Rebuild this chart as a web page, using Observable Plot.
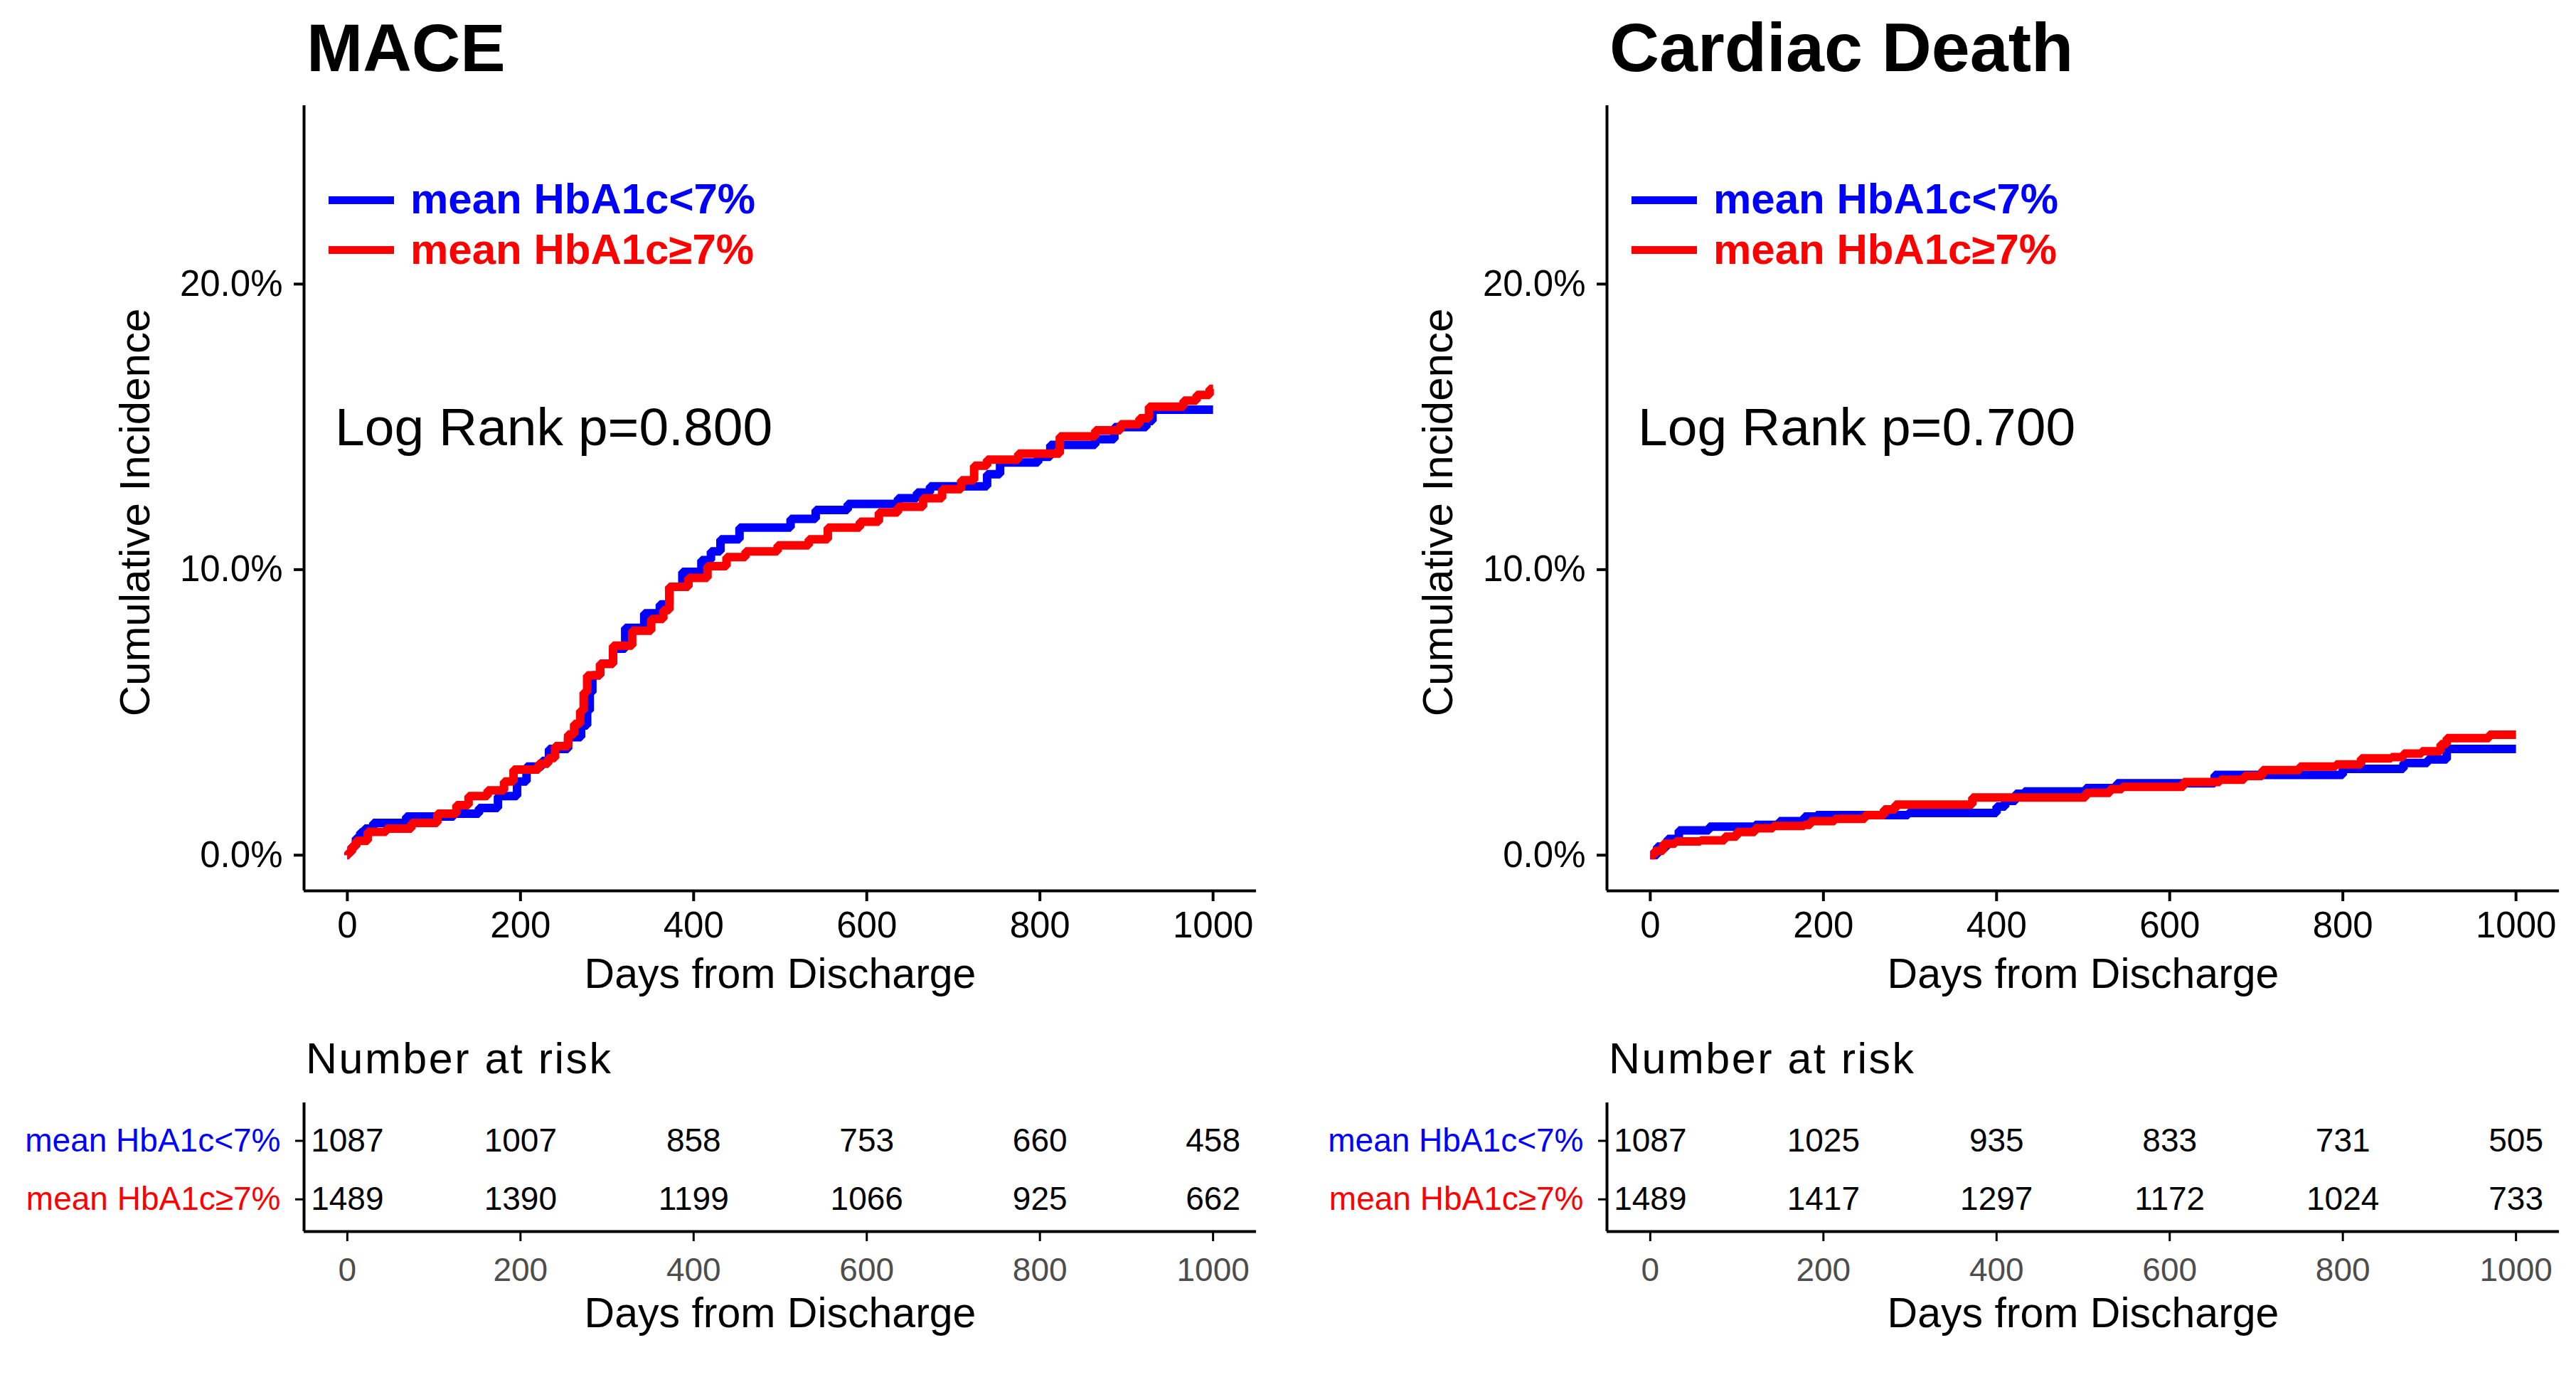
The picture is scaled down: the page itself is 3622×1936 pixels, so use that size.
<!DOCTYPE html>
<html><head><meta charset="utf-8">
<script src="https://cdn.jsdelivr.net/npm/d3@7"></script>
<script src="https://cdn.jsdelivr.net/npm/@observablehq/plot@0.6"></script>
<style>
html,body{margin:0;padding:0;background:#fff;}
#root{position:relative;width:3622px;height:1936px;overflow:hidden;font-family:"Liberation Sans",Arial,sans-serif;background:#fff;}
.abs{position:absolute;white-space:nowrap;line-height:1;}
.wrap{position:absolute;}
.wrap svg{max-width:none;display:block;}
</style></head><body><div id="root"></div>
<script>
// ---------------- data ----------------
const groups = ["mean HbA1c<7%", "mean HbA1c\u22657%"];
const groupColors = ["#0000FF", "#FF0000"];
const panelTitles = ["MACE", "Cardiac Death"];
const logRankP = ["0.800", "0.700"];
const dayTicks = [0, 200, 400, 600, 800, 1000];
const pctTicks = [0, 10, 20];
const yTitle = "Cumulative Incidence";
const xTitle = "Days from Discharge";
const riskTitle = "Number at risk";

// MACE, mean HbA1c<7%
const maceLowDays = [0,1.5,5,10,15,20,30,68,123,152,174,196,207,225,233,255,270,277,280,283,292,307,321,343,361,372,387,409,420,431,453,512,541,578,636,658,673,739,754,798,812,864,886,923,930,1000];
const maceLowPct  = [0,0.1,0.3,0.6,0.8,0.93,1.13,1.35,1.45,1.65,2.07,2.58,3.1,3.3,3.72,4.13,4.54,5.06,5.7,6.3,6.7,7.23,7.96,8.47,8.78,9.4,9.92,10.33,10.64,11.06,11.47,11.78,12.09,12.3,12.5,12.7,12.92,13.34,13.75,13.95,14.37,14.57,14.99,15.2,15.6,15.6];
// MACE, mean HbA1c>=7%
const maceHighDays = [0,1.5,5,10,23.5,45,74,104,126,140,162,181,192,221,232,240,255,262,269,273,277,292,307,329,351,365,372,394,416,438,460,497,533,555,592,614,636,665,687,709,724,739,775,823,864,893,915,926,966,981,996,1000];
const maceHighPct  = [0,0.1,0.3,0.5,0.82,0.93,1.13,1.45,1.75,2.07,2.27,2.58,3.0,3.2,3.4,3.82,4.23,4.6,5.06,5.7,6.3,6.7,7.34,7.86,8.27,8.58,9.4,9.71,10.12,10.44,10.64,10.85,11.06,11.47,11.68,12.0,12.2,12.5,12.82,13.13,13.64,13.85,14.06,14.67,14.88,15.09,15.3,15.71,15.92,16.12,16.33,16.33];
// Cardiac death, mean HbA1c<7%
const cdLowDays = [0,8,20,33,68,121,149,178,192,298,400,410,422,432,503,539,652,800,870,898,920,1000];
const cdLowPct  = [0,0.3,0.57,0.87,1.0,1.06,1.19,1.35,1.4,1.48,1.7,1.9,2.15,2.23,2.35,2.52,2.81,3.02,3.23,3.35,3.72,3.72];
// Cardiac death, mean HbA1c>=7%
const cdHighDays = [0,5,15,29,58,86,100,121,142,178,185,213,248,270,283,372,503,531,545,616,658,686,707,750,792,821,856,870,891,913,920,969,1000];
const cdHighPct  = [0,0.15,0.4,0.48,0.52,0.65,0.81,0.94,1.02,1.06,1.19,1.27,1.4,1.6,1.77,2.02,2.18,2.31,2.39,2.56,2.64,2.77,2.98,3.1,3.18,3.39,3.43,3.56,3.64,3.89,4.1,4.22,4.22];

// Number at risk
const riskDays = [0, 200, 400, 600, 800, 1000];
const maceRiskLow  = [1087, 1007, 858, 753, 660, 458];
const maceRiskHigh = [1489, 1390, 1199, 1066, 925, 662];
const cdRiskLow    = [1087, 1025, 935, 833, 731, 505];
const cdRiskHigh   = [1489, 1417, 1297, 1172, 1024, 733];

// ---------------- helpers ----------------
const FONT = '"Liberation Sans", Arial, Helvetica, sans-serif';
const root = document.getElementById("root");
function addText(str, {left, baseline, size, weight = "normal", color = "#000", spacing = 0}) {
  const d = document.createElement("div");
  d.className = "abs";
  d.textContent = str;
  d.style.left = left + "px";
  d.style.top = (baseline - 0.8465 * size) + "px";
  d.style.fontSize = size + "px";
  d.style.fontWeight = weight;
  d.style.color = color;
  d.style.letterSpacing = spacing + "px";
  d.style.fontFamily = FONT;
  root.appendChild(d);
}
function addSwatch(color, left, centerY) {
  const d = document.createElement("div");
  d.className = "abs";
  d.style.left = left + "px";
  d.style.top = (centerY - 5.5) + "px";
  d.style.width = "92px";
  d.style.height = "11px";
  d.style.background = color;
  root.appendChild(d);
}
function addPlot(svg, left, top) {
  const w = document.createElement("div");
  w.className = "wrap";
  w.style.left = left + "px";
  w.style.top = top + "px";
  w.appendChild(svg);
  root.appendChild(w);
}
function series(days, pcts, group) {
  return days.map((d, i) => ({day: d, pct: pcts[i], group}));
}

const xDomain = [-50, 1050];
const yDomain = [-1.25, 26.25];
const rowDomain = [0.45, 2.65];

function panel(idx, ox, curves, riskLow, riskHigh) {
  // title
  addText(panelTitles[idx], {left: ox + 431, baseline: 100, size: idx === 0 ? 95 : 97, weight: "bold"});

  const main = Plot.plot({
    width: 1790, height: 1282,
    marginLeft: 427, marginRight: 24, marginTop: 18, marginBottom: 160,
    x: {domain: xDomain},
    y: {domain: yDomain},
    color: {domain: groups, range: groupColors},
    style: {fontFamily: FONT, fontSize: "50px", color: "black", background: "transparent", overflow: "visible"},
    marks: [
      Plot.line(curves, {x: "day", y: "pct", z: "group", stroke: "group", strokeWidth: 12, curve: "step-after", strokeLinejoin: "miter", strokeLinecap: "butt"}),
      Plot.ruleX([xDomain[0]], {stroke: "black", strokeWidth: 4}),
      Plot.ruleY([yDomain[0]], {stroke: "black", strokeWidth: 4}),
      Plot.axisY({ticks: pctTicks, tickFormat: d => d.toFixed(1) + "%", tickSize: 14, tickPadding: 16, fontSize: 51, label: null, strokeWidth: 4, fill: "black"}),
      Plot.axisX({ticks: dayTicks, tickFormat: d => String(d), tickSize: 15, tickPadding: 14, fontSize: 51, label: null, strokeWidth: 4, fill: "black"}),
      Plot.text([yTitle], {frameAnchor: "left", dx: -237, dy: 20, rotate: -90, textAnchor: "middle", lineAnchor: "middle", fontSize: 60, fill: "black"}),
      Plot.text([xTitle], {frameAnchor: "bottom", dy: 118, textAnchor: "middle", lineAnchor: "middle", fontSize: 59, fill: "black"})
    ]
  });
  addPlot(main, ox, 130);

  // legend
  addSwatch(groupColors[0], ox + 462, 281);
  addSwatch(groupColors[1], ox + 462, 351);
  addText(groups[0], {left: ox + 577, baseline: 301, size: 60, weight: "bold", color: groupColors[0]});
  addText(groups[1], {left: ox + 577, baseline: 372, size: 60, weight: "bold", color: groupColors[1]});
  // log rank
  addText("Log Rank p=" + logRankP[idx], {left: ox + 471, baseline: 626, size: 75});

  // risk table
  addText(riskTitle, {left: ox + 430, baseline: 1510, size: 61, spacing: 2.5});
  const riskData = [];
  riskDays.forEach((d, i) => {
    riskData.push({day: d, n: riskLow[i], group: groups[0], row: 2});
    riskData.push({day: d, n: riskHigh[i], group: groups[1], row: 1});
  });
  const rowLabels = groups.map((g, i) => ({group: g, row: groups.length - i}));
  const table = Plot.plot({
    width: 1790, height: 406,
    marginLeft: 427, marginRight: 24, marginTop: 20, marginBottom: 205,
    x: {domain: xDomain},
    y: {domain: rowDomain},
    color: {domain: groups, range: groupColors},
    style: {fontFamily: FONT, fontSize: "46px", color: "black", background: "transparent", overflow: "visible"},
    marks: [
      Plot.ruleX([xDomain[0]], {stroke: "black", strokeWidth: 4}),
      Plot.ruleY([rowDomain[0]], {stroke: "black", strokeWidth: 4}),
      Plot.axisY({ticks: rowLabels.map(r => r.row), tickFormat: () => "", tickSize: 12, tickPadding: 0, label: null, strokeWidth: 3}),
      Plot.axisX({ticks: dayTicks, tickFormat: d => String(d), tickSize: 14, tickPadding: 23, fontSize: 46, label: null, strokeWidth: 3, fill: "#4D4D4D"}),
      Plot.text(riskData, {x: "day", y: "row", text: d => String(d.n), fontSize: 46, fill: "black"}),
      Plot.text(rowLabels, {frameAnchor: "left", y: "row", text: "group", fill: "group", textAnchor: "end", lineAnchor: "middle", dx: -33, fontSize: 46}),
      Plot.text([xTitle], {frameAnchor: "bottom", dy: 116, textAnchor: "middle", lineAnchor: "middle", fontSize: 59, fill: "black"})
    ]
  });
  addPlot(table, ox, 1530);
}

const maceCurves = [...series(maceLowDays, maceLowPct, groups[0]), ...series(maceHighDays, maceHighPct, groups[1])];
const cdCurves = [...series(cdLowDays, cdLowPct, groups[0]), ...series(cdHighDays, cdHighPct, groups[1])];

panel(0, 0, maceCurves, maceRiskLow, maceRiskHigh);
panel(1, 1832, cdCurves, cdRiskLow, cdRiskHigh);
</script>
</body></html>
